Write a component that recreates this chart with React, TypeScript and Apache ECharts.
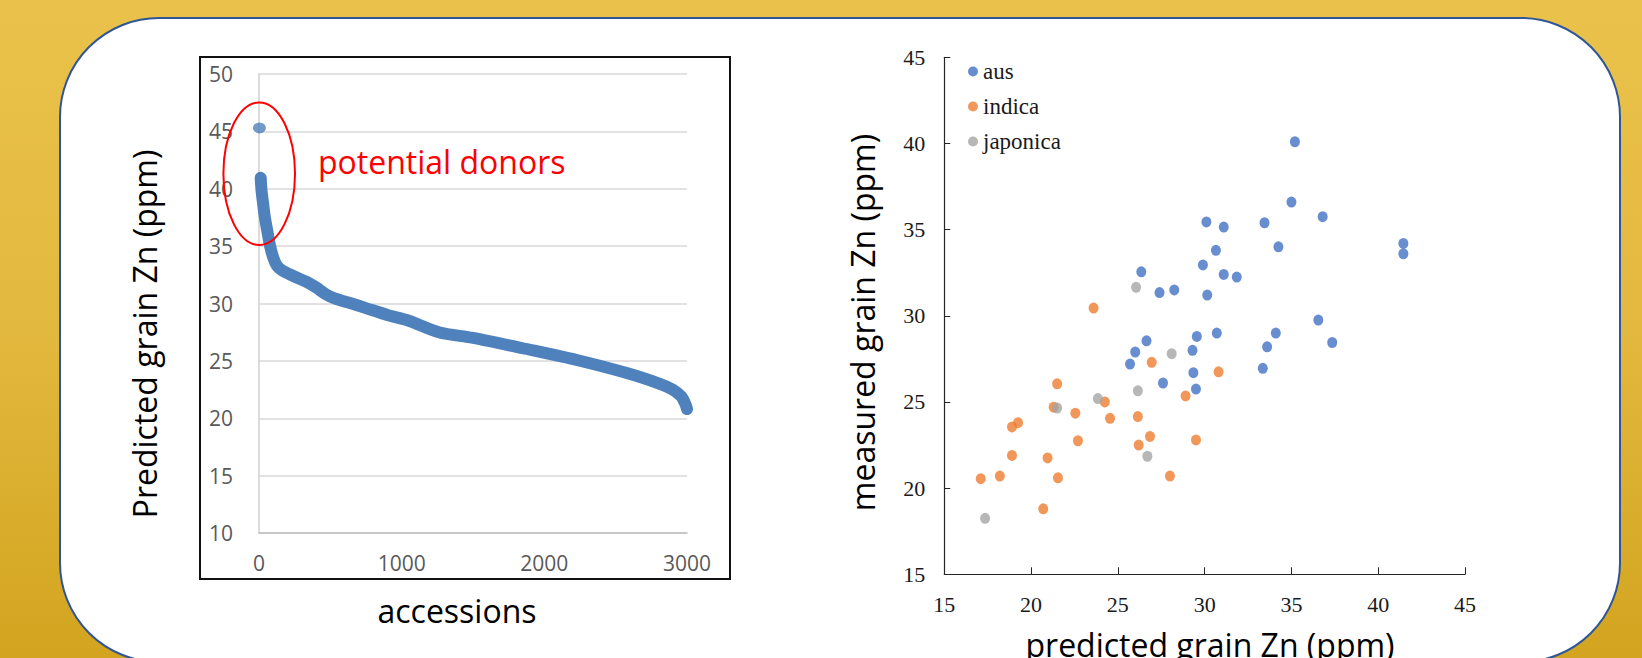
import React, { useEffect, useRef } from "react";
import * as echarts from "echarts";

// ---- Left chart: predicted grain Zn of accessions, sorted ----
const accessionIdx = [12, 18, 26, 40, 60, 78, 100, 125, 160, 240, 330, 400, 470, 530, 650, 750, 900, 1050, 1260, 1500, 1850, 2220, 2590, 2810, 2900, 2960, 2990, 3000];
const predictedZn = [40.95, 39.8, 39.0, 37.6, 36.2, 35.0, 34.0, 33.3, 32.9, 32.4, 31.9, 31.4, 30.8, 30.45, 30.0, 29.6, 29.0, 28.5, 27.5, 27.0, 26.1, 25.1, 23.9, 23.0, 22.5, 21.9, 21.2, 20.8];
const topAccessionIdx = [3];
const topAccessionZn = [45.3];
const leftXTicks = { min: 0, max: 3000, interval: 1000 };
const leftYTicks = { min: 10, max: 50, interval: 5 };

// ---- Right chart: predicted vs measured grain Zn ----
const ausPredicted = [35.2, 35.0, 36.8, 30.1, 31.1, 33.45, 34.25, 41.45, 41.45, 30.65, 29.9, 26.35, 31.1, 31.85, 27.4, 28.25, 30.15, 36.55, 30.7, 34.1, 29.55, 37.35, 26.65, 26.0, 29.3, 33.6, 25.7, 29.35, 33.35, 27.6, 29.5];
const ausMeasured = [40.1, 36.6, 35.75, 35.45, 35.15, 35.4, 34.0, 34.2, 33.6, 33.8, 32.95, 32.55, 32.4, 32.25, 31.35, 31.5, 31.2, 29.75, 29.0, 29.0, 28.8, 28.45, 28.55, 27.9, 28.0, 28.2, 27.2, 26.7, 26.95, 26.1, 25.75];
const indicaPredicted = [23.6, 26.95, 30.8, 21.5, 28.9, 24.25, 21.3, 22.55, 24.55, 26.15, 19.25, 18.9, 26.85, 29.5, 22.7, 26.2, 18.9, 20.95, 18.2, 21.55, 28.0, 17.1, 20.7];
const indicaMeasured = [30.45, 27.3, 26.75, 26.05, 25.35, 25.0, 24.7, 24.35, 24.05, 24.15, 23.8, 23.55, 23.0, 22.8, 22.75, 22.5, 21.9, 21.75, 20.7, 20.6, 20.7, 20.55, 18.8];
const japonicaPredicted = [26.05, 28.1, 26.15, 23.85, 21.5, 26.7, 17.35];
const japonicaMeasured = [31.65, 27.8, 25.65, 25.2, 24.65, 21.85, 18.25];
const groupNames = ["aus", "indica", "japonica"];
const rightTicks = { min: 15, max: 45, interval: 5 };

const zip = (xs: number[], ys: number[]) => xs.map((x, i) => [x, ys[i]]);
const ELLIPSE = "path://M0,5A5,5,0,1,1,10,5A5,5,0,1,1,0,5Z";
const plain = (v: number) => String(v);

export default function App() {
  const ref = useRef<HTMLDivElement>(null);

  useEffect(() => {
    if (!ref.current) return;
    const chart = echarts.init(ref.current, undefined, { renderer: "svg" });

    const serifLabel = { fontFamily: "Liberation Serif", fontSize: 22, color: "#1a1a1a", formatter: plain };
    const sansLabel = { fontFamily: "Open Sans", fontSize: 21, color: "#595959", formatter: plain };
    const blackAxis = { show: true, lineStyle: { color: "#262626", width: 1.2 } };

    chart.setOption({
      animation: false,
      backgroundColor: "transparent",
      grid: [
        { left: 259, top: 74, width: 428, height: 459 },
        { left: 944.3, top: 57.3, width: 520.7, height: 517 },
      ],
      xAxis: [
        {
          type: "value",
          gridIndex: 0,
          ...leftXTicks,
          splitLine: { show: false },
          axisTick: { show: false },
          axisLine: { show: true, onZero: false, lineStyle: { color: "#BFBFBF", width: 1.5 } },
          axisLabel: { margin: 19, ...sansLabel },
        },
        {
          type: "value",
          gridIndex: 1,
          ...rightTicks,
          splitLine: { show: false },
          axisTick: { show: true, inside: true, length: 7, lineStyle: { color: "#262626" } },
          axisLine: { ...blackAxis, onZero: false },
          axisLabel: { margin: 19, ...serifLabel },
        },
      ],
      yAxis: [
        {
          type: "value",
          gridIndex: 0,
          ...leftYTicks,
          splitLine: { show: true, lineStyle: { color: "#D9D9D9", width: 1.5 } },
          axisTick: { show: false },
          axisLine: { show: true, onZero: false, lineStyle: { color: "#D0D0D0", width: 1.5 } },
          axisLabel: { margin: 26, ...sansLabel },
        },
        {
          type: "value",
          gridIndex: 1,
          ...rightTicks,
          splitLine: { show: false },
          axisTick: { show: true, inside: true, length: 6, lineStyle: { color: "#262626" } },
          axisLine: { ...blackAxis, onZero: false },
          axisLabel: { margin: 19, ...serifLabel },
        },
      ],
      legend: {
        data: groupNames,
        orient: "vertical",
        left: 963,
        top: 55,
        itemWidth: 10,
        itemHeight: 11,
        itemGap: 12,
        textStyle: { fontFamily: "Liberation Serif", fontSize: 23, color: "#1a1a1a" },
      },
      series: [
        {
          type: "line",
          xAxisIndex: 0,
          yAxisIndex: 0,
          data: zip(accessionIdx, predictedZn),
          symbol: "none",
          smooth: 0.3,
          lineStyle: { color: "#4F81BD", width: 12, cap: "round", join: "round" },
          silent: true,
          z: 3,
        },
        {
          type: "scatter",
          xAxisIndex: 0,
          yAxisIndex: 0,
          data: zip(topAccessionIdx, topAccessionZn),
          symbol: ELLIPSE,
          symbolSize: [13, 11],
          itemStyle: { color: "#4F81BD" },
          silent: true,
        },
        {
          name: groupNames[0],
          type: "scatter",
          xAxisIndex: 1,
          yAxisIndex: 1,
          data: zip(ausPredicted, ausMeasured),
          symbol: ELLIPSE,
          symbolSize: [10, 11],
          itemStyle: { color: "#4472C4" },
        },
        {
          name: groupNames[1],
          type: "scatter",
          xAxisIndex: 1,
          yAxisIndex: 1,
          data: zip(indicaPredicted, indicaMeasured),
          symbol: ELLIPSE,
          symbolSize: [10, 11],
          itemStyle: { color: "#ED7D31" },
        },
        {
          name: groupNames[2],
          type: "scatter",
          xAxisIndex: 1,
          yAxisIndex: 1,
          data: zip(japonicaPredicted, japonicaMeasured),
          symbol: ELLIPSE,
          symbolSize: [10, 11],
          itemStyle: { color: "#A5A5A5" },
        },
      ],
      graphic: [
        {
          type: "rect",
          shape: { x: 200, y: 57, width: 530, height: 522 },
          style: { fill: "none", stroke: "#111111", lineWidth: 2 },
          z: 50,
        },
        {
          type: "ellipse",
          shape: { cx: 259.2, cy: 173.7, rx: 35.8, ry: 71.3 },
          style: { fill: "none", stroke: "#FF0000", lineWidth: 2 },
          z: 100,
        },
        {
          type: "text",
          x: 318,
          y: 161,
          style: {
            text: "potential donors",
            font: "32px 'Open Sans'",
            fill: "#FF0000",
            align: "left",
            verticalAlign: "middle",
          },
          z: 100,
        },
        {
          type: "text",
          x: 144,
          y: 334,
          rotation: Math.PI / 2,
          style: {
            text: "Predicted grain Zn (ppm)",
            font: "32px 'Open Sans'",
            fill: "#000000",
            align: "center",
            verticalAlign: "middle",
          },
          z: 100,
        },
        {
          type: "text",
          x: 457,
          y: 610,
          style: {
            text: "accessions",
            font: "32px 'Open Sans'",
            fill: "#000000",
            align: "center",
            verticalAlign: "middle",
          },
          z: 100,
        },
        {
          type: "text",
          x: 862,
          y: 322.5,
          rotation: Math.PI / 2,
          style: {
            text: "measured grain Zn (ppm)",
            font: "32px 'Open Sans'",
            fill: "#000000",
            align: "center",
            verticalAlign: "middle",
          },
          z: 100,
        },
        {
          type: "text",
          x: 1210,
          y: 644,
          style: {
            text: "predicted grain Zn (ppm)",
            font: "32px 'Open Sans'",
            fill: "#000000",
            align: "center",
            verticalAlign: "middle",
          },
          z: 100,
        },
      ],
    });

    return () => chart.dispose();
  }, []);

  return (
    <div
      style={{
        position: "absolute",
        left: 0,
        top: 0,
        width: 1642,
        height: 658,
        overflow: "hidden",
        background: "linear-gradient(180deg, #EAC24B 0%, #E3B83E 50%, #D2A41F 100%)",
      }}
    >
      <div
        style={{
          position: "absolute",
          left: 59,
          top: 17,
          width: 1562,
          height: 646,
          boxSizing: "border-box",
          border: "2.5px solid #2F5597",
          borderRadius: 100,
          background: "#FFFFFF",
        }}
      />
      <div ref={ref} style={{ position: "absolute", left: 0, top: 0, width: 1642, height: 658 }} />
    </div>
  );
}
